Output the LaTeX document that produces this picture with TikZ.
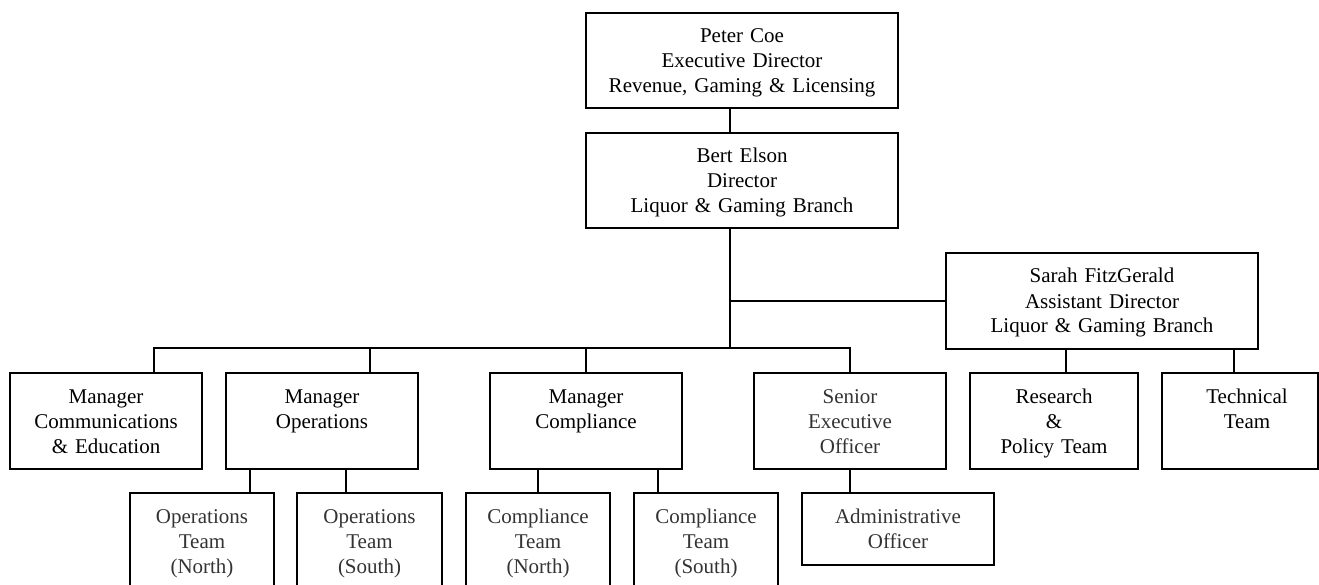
\documentclass[tikz,border=0pt]{standalone}
\usepackage{fontspec}
\setmainfont{Liberation Serif}
\newcommand\mystrut{\rule[-5pt]{0pt}{24pt}}
\begin{document}
\begin{tikzpicture}[x=1pt,y=-1pt,
  box/.style={draw, line width=1.8pt, inner sep=0pt, align=center,
    font=\fontsize{21}{25}\selectfont},
  grey/.style={text=black!80},
  conn/.style={line width=1.8pt}]
\useasboundingbox (0,0) rectangle (1319,585);
\clip (0,0) rectangle (1319,585);
% top
\node[box, text width=312pt, minimum height=95pt] (top) at (742,60.5)
  {\mystrut Peter Coe\\Executive Director\\Revenue, Gaming \& Licensing\mystrut};
\node[box, text width=312pt, minimum height=95pt] (bert) at (742,180.5)
  {\mystrut Bert Elson\\Director\\Liquor \& Gaming Branch\mystrut};
\node[box, text width=312pt, minimum height=96pt] (sarah) at (1102,301)
  {\mystrut Sarah FitzGerald\\Assistant Director\\Liquor \& Gaming Branch\mystrut};
% managers
\node[box, text width=192pt, minimum height=96pt] (comm) at (106,421)
  {\mystrut Manager\\Communications\\\& Education\mystrut};
\node[box, text width=192pt, minimum height=96pt] (ops) at (322,421)
  {\mystrut Manager\\Operations\\\mystrut};
\node[box, text width=192pt, minimum height=96pt] (compl) at (586,421)
  {\mystrut Manager\\Compliance\\\mystrut};
\node[box, grey, text width=192pt, minimum height=96pt] (senior) at (850,421)
  {\mystrut Senior\\Executive\\Officer\mystrut};
\node[box, text width=168pt, minimum height=96pt] (research) at (1054,421)
  {\mystrut Research\\\&\\Policy Team\mystrut};
\node[box, text width=156pt, minimum height=96pt] (tech) at (1240,421)
  {\mystrut\hspace*{14pt}Technical\\\hspace*{14pt}Team\\\mystrut};
% teams
\node[box, grey, text width=144pt, minimum height=96pt] (opsN) at (202,541)
  {\mystrut Operations\\Team\\(North)\mystrut};
\node[box, grey, text width=145pt, minimum height=96pt] (opsS) at (369.5,541)
  {\mystrut Operations\\Team\\(South)\mystrut};
\node[box, grey, text width=144pt, minimum height=96pt] (compN) at (538,541)
  {\mystrut Compliance\\Team\\(North)\mystrut};
\node[box, grey, text width=144pt, minimum height=96pt] (compS) at (706,541)
  {\mystrut Compliance\\Team\\(South)\mystrut};
\node[box, grey, text width=192pt, minimum height=72pt] (admin) at (898,529)
  {\mystrut Administrative\\Officer\mystrut};
% connectors
\coordinate (bus) at (730,349);
\coordinate (sj) at (730,301);
\draw[conn] ([xshift=-12pt]top.south) -- ([xshift=-12pt]bert.north);
\draw[conn] ([xshift=-12pt]bert.south) -- (bus);
\draw[conn] (sj) -- (sarah.west);
\draw[conn] ([xshift=48pt]comm.north) -- ++(0,-24) -| (senior.north);
\draw[conn] ([xshift=48pt]ops.north) -- ++(0,-24);
\draw[conn] (compl.north) -- ++(0,-24);
\draw[conn] ([xshift=12pt]research.north) -- ++(0,-24);
\draw[conn] ([xshift=-6pt]tech.north) -- ++(0,-24);
\draw[conn] ([xshift=48pt]opsN.north) -- ++(0,-24);
\draw[conn] ([xshift=-23.5pt]opsS.north) -- ++(0,-24);
\draw[conn] (compN.north) -- ++(0,-24);
\draw[conn] ([xshift=-48pt]compS.north) -- ++(0,-24);
\draw[conn] ([xshift=-48pt]admin.north) -- ++(0,-24);
\end{tikzpicture}
\end{document}
